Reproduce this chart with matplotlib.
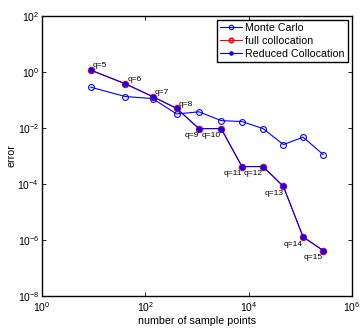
import matplotlib
matplotlib.use("Agg")
import matplotlib.pyplot as plt
from matplotlib.ticker import NullLocator, FixedLocator

plt.rcParams['font.family'] = ['Liberation Sans', 'DejaVu Sans']
plt.rcParams['mathtext.fontset'] = 'custom'
plt.rcParams['mathtext.rm'] = 'Liberation Sans'
plt.rcParams['mathtext.it'] = 'Liberation Sans:italic'

# data
sample_points = [8.8, 41, 138, 404, 1090, 2940, 7400, 19000, 47000, 113000, 277000]
monte_carlo = [0.28, 0.13, 0.11, 0.031, 0.037, 0.018, 0.0166, 0.0093, 0.0025, 0.0046, 0.0011]
full_colloc = [1.14, 0.37, 0.13, 0.049, 0.0093, 0.0093, 4.1e-4, 4.1e-4, 8e-5, 1.26e-6, 4.1e-7]
reduced_colloc = [1.14, 0.37, 0.13, 0.049, 0.0093, 0.0093, 4.1e-4, 4.1e-4, 8e-5, 1.26e-6, 4.1e-7]
q_labels = ['q=5', 'q=6', 'q=7', 'q=8', 'q=9', 'q=10', 'q=11', 'q=12', 'q=13', 'q=14', 'q=15']
x_ticks = [1e0, 1e2, 1e4, 1e6]
y_ticks = [1e-8, 1e-6, 1e-4, 1e-2, 1e0, 1e2]

fig = plt.figure(figsize=(3.6, 3.28), dpi=100)
ax = fig.add_axes([0.1167, 0.0985, 0.8611, 0.8535])

ax.plot(sample_points, monte_carlo, '-o', color='#0000ff', mfc='none', mec='#0000ff',
        ms=4.2, lw=0.8, mew=0.8, label='Monte Carlo')
ax.plot(sample_points, full_colloc, '-o', color='#ff0000', mfc='none', mec='#ff0000',
        ms=4.2, lw=0.8, mew=1.2, label='full collocation')
ax.plot(sample_points, reduced_colloc, marker='.', linestyle='-', color='#0000ff',
        ms=6, lw=0.8, label='Reduced Collocation')

for i, (x, y, lab) in enumerate(zip(sample_points, reduced_colloc, q_labels)):
    if i < 4:
        ax.annotate(lab, (x, y), xytext=(1.4, 3.0), textcoords='offset points',
                    ha='left', va='center', fontsize=6)
    else:
        ax.annotate(lab, (x, y), xytext=(0, -5.3), textcoords='offset points',
                    ha='right', va='center', fontsize=6)

ax.set_xscale('log')
ax.set_yscale('log')
ax.set_xlim(1e0, 1e6)
ax.set_ylim(1e-8, 1e2)
ax.xaxis.set_major_locator(FixedLocator(x_ticks))
ax.yaxis.set_major_locator(FixedLocator(y_ticks))
ax.xaxis.set_minor_locator(NullLocator())
ax.yaxis.set_minor_locator(NullLocator())
ax.tick_params(which='both', direction='in', top=True, right=True, length=3,
               width=0.6, labelsize=7.5, pad=2)
ax.tick_params(axis='x', pad=3.5)
for s in ax.spines.values():
    s.set_linewidth(1.0)

ax.set_xlabel('number of sample points', fontsize=7.7, labelpad=1.5)
ax.set_ylabel('error', fontsize=7.7, labelpad=1)

leg = ax.legend(loc='upper right', fontsize=7.7, frameon=True, fancybox=False,
                edgecolor='black', framealpha=1, borderpad=0.3, labelspacing=0.25,
                handlelength=2.0, handletextpad=0.3, borderaxespad=0.4,
                markerscale=0.75)
leg.get_frame().set_linewidth(1.0)

fig.savefig('out.png', dpi=100)
